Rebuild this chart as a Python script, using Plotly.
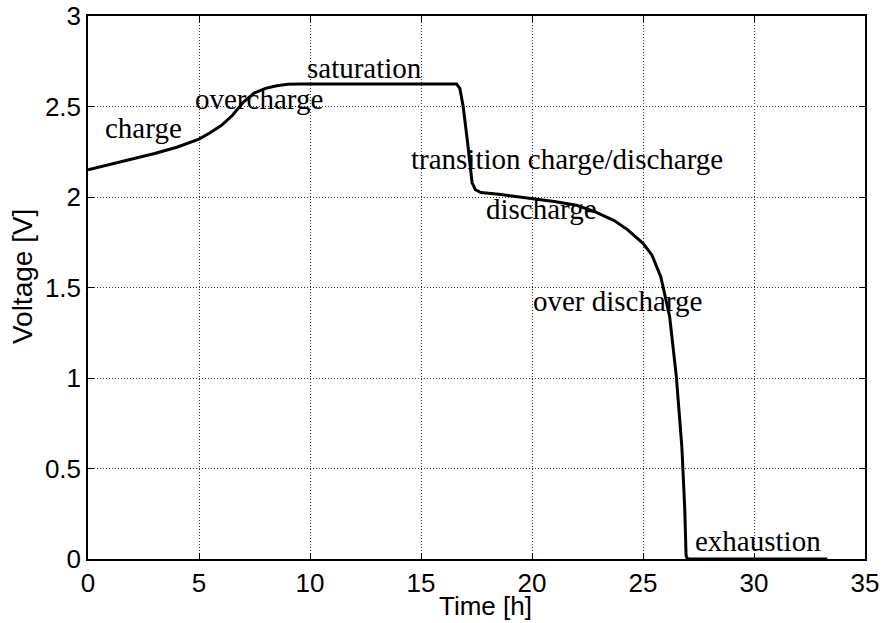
import plotly.graph_objects as go

# Curve data
time_h = [0, 1, 2, 3, 4, 5, 5.5, 6, 6.5, 7, 7.5, 8, 8.5, 9, 9.5,
          16.6, 16.75, 16.9, 17.1, 17.3, 17.45, 17.7, 18.5, 20, 21, 22,
          22.8, 23.7, 24.3, 25, 25.4, 25.8, 26.2, 26.5, 26.75, 26.88, 26.94, 27.0, 33.3]
voltage_v = [2.15, 2.18, 2.21, 2.24, 2.275, 2.32, 2.355, 2.395, 2.45, 2.525, 2.575, 2.60, 2.615, 2.623, 2.625,
             2.625, 2.60, 2.50, 2.30, 2.08, 2.04, 2.025, 2.015, 1.993, 1.975, 1.955,
             1.92, 1.87, 1.82, 1.744, 1.68, 1.56, 1.34, 1.01, 0.62, 0.28, 0.02, 0, 0]

# Region labels
label_text = ["charge", "overcharge", "saturation", "transition charge/discharge",
              "discharge", "over discharge", "exhaustion"]
label_t = [2.5, 7.71, 12.44, 21.56, 20.44, 23.83, 30.2]
label_v = [2.383, 2.54, 2.713, 2.208, 1.932, 1.425, 0.10]

x_ticks = [0, 5, 10, 15, 20, 25, 30, 35]
y_ticks = [0, 0.5, 1, 1.5, 2, 2.5, 3]
y_tick_text = ["0", "0.5", "1", "1.5", "2", "2.5", "3"]

x_title = "Time [h]"
y_title = "Voltage [V]"

fig = go.Figure()
fig.add_trace(go.Scatter(x=time_h, y=voltage_v, mode="lines",
                         line=dict(color="black", width=3), showlegend=False))

label_font = dict(family="Liberation Serif", size=29, color="black")
for txt, tx, vy in zip(label_text, label_t, label_v):
    fig.add_annotation(x=tx, y=vy, xref="x", yref="y", text=txt, showarrow=False,
                       xanchor="center", yanchor="middle", font=label_font)

fig.add_annotation(x=0.512, y=-0.057, xref="paper", yref="paper", text=x_title,
                   showarrow=False, xanchor="center", yanchor="top", borderpad=0,
                   font=dict(family="Liberation Sans", size=26, color="black"))
fig.add_annotation(x=-0.085, y=0.521, xref="paper", yref="paper", text=y_title,
                   showarrow=False, xanchor="center", yanchor="middle", textangle=-90,
                   font=dict(family="Liberation Sans", size=28, color="black"))

axis_common = dict(showline=True, linecolor="black", linewidth=1.5, mirror="ticks",
                   ticks="inside", ticklen=6, tickcolor="black", tickwidth=1,
                   showgrid=True, gridcolor="#333333", griddash="1px,2px", gridwidth=1,
                   zeroline=False, automargin=False,
                   tickfont=dict(family="Liberation Sans", size=26, color="black"))

fig.update_xaxes(range=[0, 35], tickvals=x_ticks, ticktext=[str(v) for v in x_ticks],
                 **axis_common)
fig.update_yaxes(range=[0, 3], tickvals=y_ticks, ticktext=y_tick_text,
                 **axis_common)

fig.update_layout(width=885, height=623, margin=dict(l=88, r=20, t=16, b=64, autoexpand=False),
                  plot_bgcolor="white", paper_bgcolor="white")

fig.write_html("out.html", config={"displayModeBar": False},
               post_script="document.body.style.margin='0';")
